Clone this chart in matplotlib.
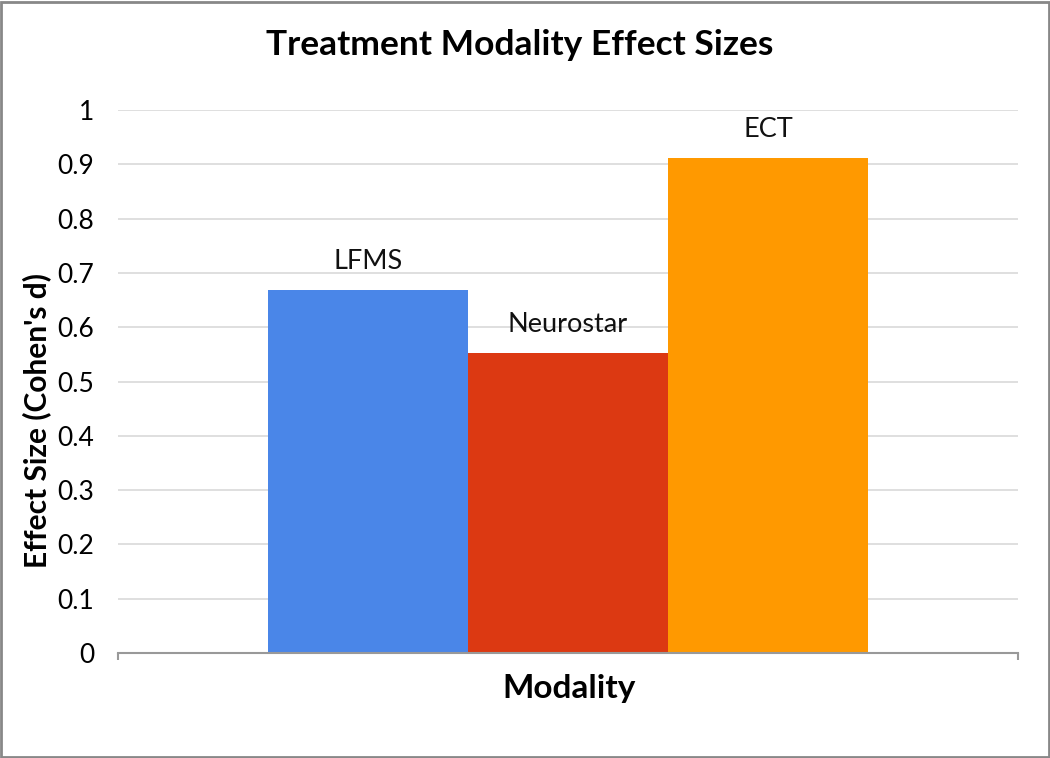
import matplotlib.pyplot as plt
from matplotlib.patches import Rectangle
import numpy as np

categories = ['LFMS', 'Neurostar', 'ECT']
effect_sizes = [0.668, 0.552, 0.911]
bar_colors = ['#4a86e8', '#dc3912', '#ff9900']
y_ticks = [0, 0.1, 0.2, 0.3, 0.4, 0.5, 0.6, 0.7, 0.8, 0.9, 1]
y_tick_labels = ['0', '0.1', '0.2', '0.3', '0.4', '0.5', '0.6', '0.7', '0.8', '0.9', '1']

plt.rcParams['font.family'] = ['Lato', 'DejaVu Sans']

fig = plt.figure(figsize=(10.5, 7.58), dpi=100)
ax = fig.add_axes([0.1124, 0.1385, 0.857, 0.7164])

x = np.arange(len(categories))
ax.bar(x, effect_sizes, width=1.0, color=bar_colors, zorder=3)
# category names sit just above each bar
for xi, v, name in zip(x, effect_sizes, categories):
    ax.text(xi, v + 0.04, name, ha='center', va='baseline', fontsize=19.5, color='#111111')

ax.set_xlim(-1.25, 3.25)
ax.set_ylim(0, 1)
ax.set_yticks(y_ticks)
ax.set_yticklabels(y_tick_labels, fontsize=19)
ax.tick_params(axis='y', length=0, pad=17)
ax.set_xticks([-1.25, 3.25])
ax.set_xticklabels(['', ''])
ax.tick_params(axis='x', length=5, color='#999999', width=1.5)
ax.yaxis.grid(True, color='#d9d9d9', linewidth=1.2, zorder=0)
for s in ['left', 'right', 'top']:
    ax.spines[s].set_visible(False)
ax.spines['bottom'].set_color('#999999')
ax.spines['bottom'].set_linewidth(1.5)
ax.spines['bottom'].set_zorder(4)

fig.text(37 / 1050, 1 - 420 / 758, "Effect Size (Cohen's d)", rotation=90,
         ha='center', va='center', fontsize=21.5, fontweight='bold')
fig.text(569 / 1050, 1 - 698 / 758, 'Modality', ha='center', va='baseline',
         fontsize=24, fontweight='bold')
fig.text(520 / 1050, 1 - 45 / 758, 'Treatment Modality Effect Sizes', ha='center', va='center',
         fontsize=25.5, fontweight='bold')

fig.patches.append(Rectangle((0.001, 0.001), 0.998, 0.997, transform=fig.transFigure,
                             fill=False, edgecolor='#888888', linewidth=2))

fig.savefig('out.png', dpi=100)
